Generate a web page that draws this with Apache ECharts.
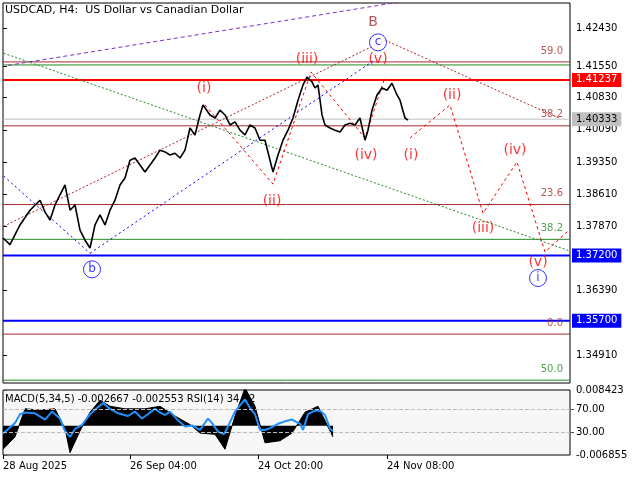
<!DOCTYPE html>
<html><head><meta charset="utf-8">
<script src="https://cdn.jsdelivr.net/npm/echarts@6/dist/echarts.min.js"></script>
<style>html,body{margin:0;padding:0;background:#fff}#c{width:640px;height:480px}</style>
</head><body><div id="c"></div>
<script>
const priceX = [0,7,17,27,37,42,47,52,57,62,67,72,77,82,87,92,97,102,107,112,117,122,127,132,137,142,147,152,157,162,167,172,177,182,187,192,197,200,207,212,217,222,227,232,237,242,247,252,257,262,267,270,275,280,285,290,295,300,304,309,312,315,319,322,327,332,337,342,347,352,357,362,365,369,374,379,384,389,394,397,402,405];
const priceY = [1.3760,1.3745,1.3790,1.3824,1.3847,1.3820,1.3801,1.3836,1.3859,1.3882,1.3824,1.3836,1.3778,1.3755,1.3737,1.3790,1.3813,1.3790,1.3824,1.3847,1.3882,1.3898,1.3939,1.3944,1.3928,1.3912,1.3928,1.3944,1.3962,1.3958,1.3951,1.3955,1.3944,1.3962,1.4013,1.3997,1.4043,1.4066,1.4043,1.4036,1.4054,1.4043,1.4020,1.4027,1.4008,1.3997,1.4020,1.4013,1.3985,1.3985,1.3939,1.3912,1.3951,1.3985,1.4008,1.4036,1.4077,1.4112,1.4130,1.4119,1.4105,1.4112,1.4043,1.4020,1.4013,1.4008,1.4004,1.4020,1.4024,1.4020,1.4036,1.3985,1.4008,1.4054,1.4089,1.4105,1.4100,1.4116,1.4089,1.4077,1.4036,1.4031];
const rsiX = [0,12,17,22,32,42,49,57,62,67,72,79,87,94,100,107,115,125,132,139,152,157,162,167,175,182,189,197,205,209,215,221,225,232,237,242,247,252,257,262,267,275,282,289,297,300,305,312,317,322,325,327,330];
const rsiV = [28.5,46,61,64,62.6,52,65.5,53.7,33,22.6,36,43,61,71.5,80,70,62.6,58,65.5,53.7,70,64,59.6,65.5,50.7,40.4,42,34.4,53.7,46,31.5,27,40.4,65.5,76,86,71.5,61,34.4,34.4,37.4,44.8,49,52,44.8,34.4,61,67,67,59.6,46,36,33];
const macdX = [0,12,22,37,52,62,67,77,87,97,107,122,142,157,172,187,197,212,222,232,242,252,262,277,289,302,315,327,330];
const macdV = [-0.0055,-0.0026,0.0040,0.0037,0.0040,-0.0006,-0.0063,-0.0012,0.0032,0.0060,0.0046,0.0040,0.0040,0.0046,0.0023,0.0003,-0.0017,-0.0020,-0.0055,0.0023,0.0089,0.0046,-0.0040,-0.0035,-0.0017,0.0032,0.0046,-0.0012,-0.0026];
const priceTicks = [1.4243,1.4155,1.4083,1.4009,1.3935,1.3861,1.3787,1.3639,1.3491];
const timeLabels = ['28 Aug 2025','26 Sep 04:00','24 Oct 20:00','24 Nov 08:00'];
const timeX = [0,127,255,384];
const levels = [
 [1.41650,'#a52a2a',1,'59.0',false],
 [1.41580,'#228b22',1,'',false],
 [1.41237,'#ff0000',2,'1.41237',true],
 [1.40333,'#c0c0c0',1,'1.40333',true],
 [1.40180,'#a52a2a',1,'38.2',false],
 [1.38370,'#a52a2a',1,'23.6',false],
 [1.37570,'#228b22',1,'38.2',false],
 [1.37200,'#0000ff',2,'1.37200',true],
 [1.35700,'#0000ff',2,'1.35700',true],
 [1.35390,'#a52a2a',1,'0.0',false],
 [1.34330,'#228b22',1,'50.0',false]
];
const purpleLine = [[5,1.4157],[397,1.4303]];
const greenLine = [[-3,1.4188],[567,1.3730]];
const brownLine1 = [[-3,1.3783],[382,1.4215]];
const brownLine2 = [[382,1.4215],[557,1.4035]];
const blueLine1 = [[-3,1.3910],[87,1.3725]];
const blueLine2 = [[87,1.3725],[372,1.4170]];
const redWave = [[202,1.4066],[270,1.3884],[308,1.4142],[362,1.3990],[382,1.4130]];
const redFuture = [[407,1.3990],[447,1.4066],[480,1.3817],[514,1.3935],[542,1.3728],[567,1.3780]];
const waveLabels = [
 [370,1.4255,'B','#a52a2a'],[304,1.4170,'(iii)','#ff0000'],[375,1.4170,'(v)','#ff0000'],
 [201,1.4105,'(i)','#ff0000'],[269,1.3845,'(ii)','#ff0000'],[363,1.3950,'(iv)','#ff0000'],
 [408,1.3950,'(i)','#ff0000'],[449,1.4087,'(ii)','#ff0000'],[480,1.3783,'(iii)','#ff0000'],
 [512,1.3962,'(iv)','#ff0000'],[535,1.3705,'(v)','#ff0000']
];
const circleLabels = [[375,1.4210,'c'],[89,1.3688,'b'],[535,1.3668,'i']];

const dash = (d,c,t)=>({type:'line',data:d,symbol:'none',silent:true,lineStyle:{color:c,width:1,type:t||[3,3]},z:3});
const levelSeries = levels.map(l=>({type:'line',data:[[0,l[0]],[567,l[0]]],symbol:'none',silent:true,z:2,
  lineStyle:{color:l[1],width:l[2]},
  endLabel:l[4]?{show:true,formatter:l[3],color:l[1]==='#c0c0c0'?'#000':'#fff',backgroundColor:l[1],padding:[2,4],fontSize:10,distance:2}:{show:false}}));
const levelText = {type:'scatter',symbolSize:0,silent:true,z:6,
  data:levels.filter(l=>!l[4]&&l[3]).map(l=>({value:[567,l[0]],label:{color:l[1],formatter:l[3]}})),
  label:{show:true,position:'insideBottomRight',fontSize:10,offset:[-2,-1]}};
const chart = echarts.init(document.getElementById('c'));
const font = 'DejaVu Sans';
chart.setOption({
 animation:false,
 backgroundColor:'#ffffff',
 textStyle:{fontFamily:font},
 graphic:[
  {type:'text',left:5,top:5,style:{text:'USDCAD, H4:  US Dollar vs Canadian Dollar',font:'11px DejaVu Sans',fill:'#000'}},
  {type:'text',left:5,top:394,style:{text:'MACD(5,34,5) -0.002667 -0.002553 RSI(14) 34.82',font:'10px DejaVu Sans',fill:'#000'}}
 ],
 grid:[
  {left:3,right:70,top:3,height:380,show:true,borderColor:'#000',backgroundColor:'#fff'},
  {left:3,right:70,top:390,height:65,show:true,borderColor:'#000',backgroundColor:'#f7f7f7'}
 ],
 xAxis:[
  {type:'value',gridIndex:0,min:0,max:567,show:false},
  {type:'value',gridIndex:1,min:0,max:567,position:'bottom',axisLine:{show:false,onZero:false},splitLine:{show:false},
   axisTick:{show:true,customValues:timeX,length:4,lineStyle:{color:'#000'}},
   axisLabel:{customValues:timeX,formatter:v=>timeLabels[timeX.indexOf(v)]||'',color:'#000',fontSize:10,align:'left',margin:6}}
 ],
 yAxis:[
  {type:'value',gridIndex:0,position:'right',min:1.34266,max:1.43005,splitLine:{show:false},
   axisLine:{show:false},axisTick:{show:true,customValues:priceTicks,length:4,lineStyle:{color:'#000'}},
   axisLabel:{customValues:priceTicks,formatter:v=>v.toFixed(5),color:'#000',fontSize:10,margin:6}},
  {type:'value',gridIndex:1,position:'right',min:-0.006855,max:0.008423,splitLine:{show:false},axisLine:{show:false},
   axisTick:{show:true,customValues:[-0.006855,0.008423],length:4},
   axisLabel:{customValues:[-0.006855,0.008423],formatter:v=>v.toFixed(6),color:'#000',fontSize:10,margin:6}},
  {type:'value',gridIndex:1,position:'right',min:-8,max:102,splitLine:{show:false},axisLine:{show:false},
   axisTick:{show:true,customValues:[30,70],length:4},
   axisLabel:{customValues:[30,70],formatter:v=>v.toFixed(2),color:'#000',fontSize:10,margin:6}}
 ],
 series:[
  ...levelSeries, levelText,
  {type:'line',data:priceX.map((x,i)=>[x,priceY[i]]),symbol:'none',lineStyle:{color:'#000',width:1.6},z:5},
  dash(purpleLine,'#7b2fbf',[4,3]), dash(greenLine,'#228b22',[2,2]), dash(brownLine1,'#a52a2a',[2,2]),
  dash(brownLine2,'#a52a2a',[2,2]), dash(blueLine1,'#0000ff',[2,3]), dash(blueLine2,'#0000ff',[2,3]),
  dash(redWave,'#ff0000',[3,3]), dash(redFuture,'#ff0000',[3,3]),
  {type:'scatter',data:waveLabels.map(w=>({value:[w[0],w[1]],label:{color:w[3],formatter:w[2]}})),symbolSize:0,z:6,
   label:{show:true,position:'inside',fontSize:14,fontFamily:font}},
  {type:'scatter',data:circleLabels.map(c=>({value:[c[0],c[1]],label:{formatter:c[2]}})),symbol:'circle',symbolSize:17,z:6,
   itemStyle:{color:'#fff',borderColor:'#0000ff',borderWidth:1},label:{show:true,position:'inside',color:'#0000ff',fontSize:12}},
  {type:'line',xAxisIndex:1,yAxisIndex:1,data:macdX.map((x,i)=>[x,macdV[i]]),symbol:'none',lineStyle:{color:'#000',width:1},
   areaStyle:{color:'#000',opacity:1,origin:0}},
  {type:'line',xAxisIndex:1,yAxisIndex:2,data:rsiX.map((x,i)=>[x,rsiV[i]]),symbol:'none',lineStyle:{color:'#1e90ff',width:2},z:4,
   markLine:{symbol:'none',silent:true,label:{show:false},lineStyle:{color:'#bbb',type:'dashed',width:1},data:[{yAxis:30},{yAxis:70}]}}
 ]
});
</script></body></html>
